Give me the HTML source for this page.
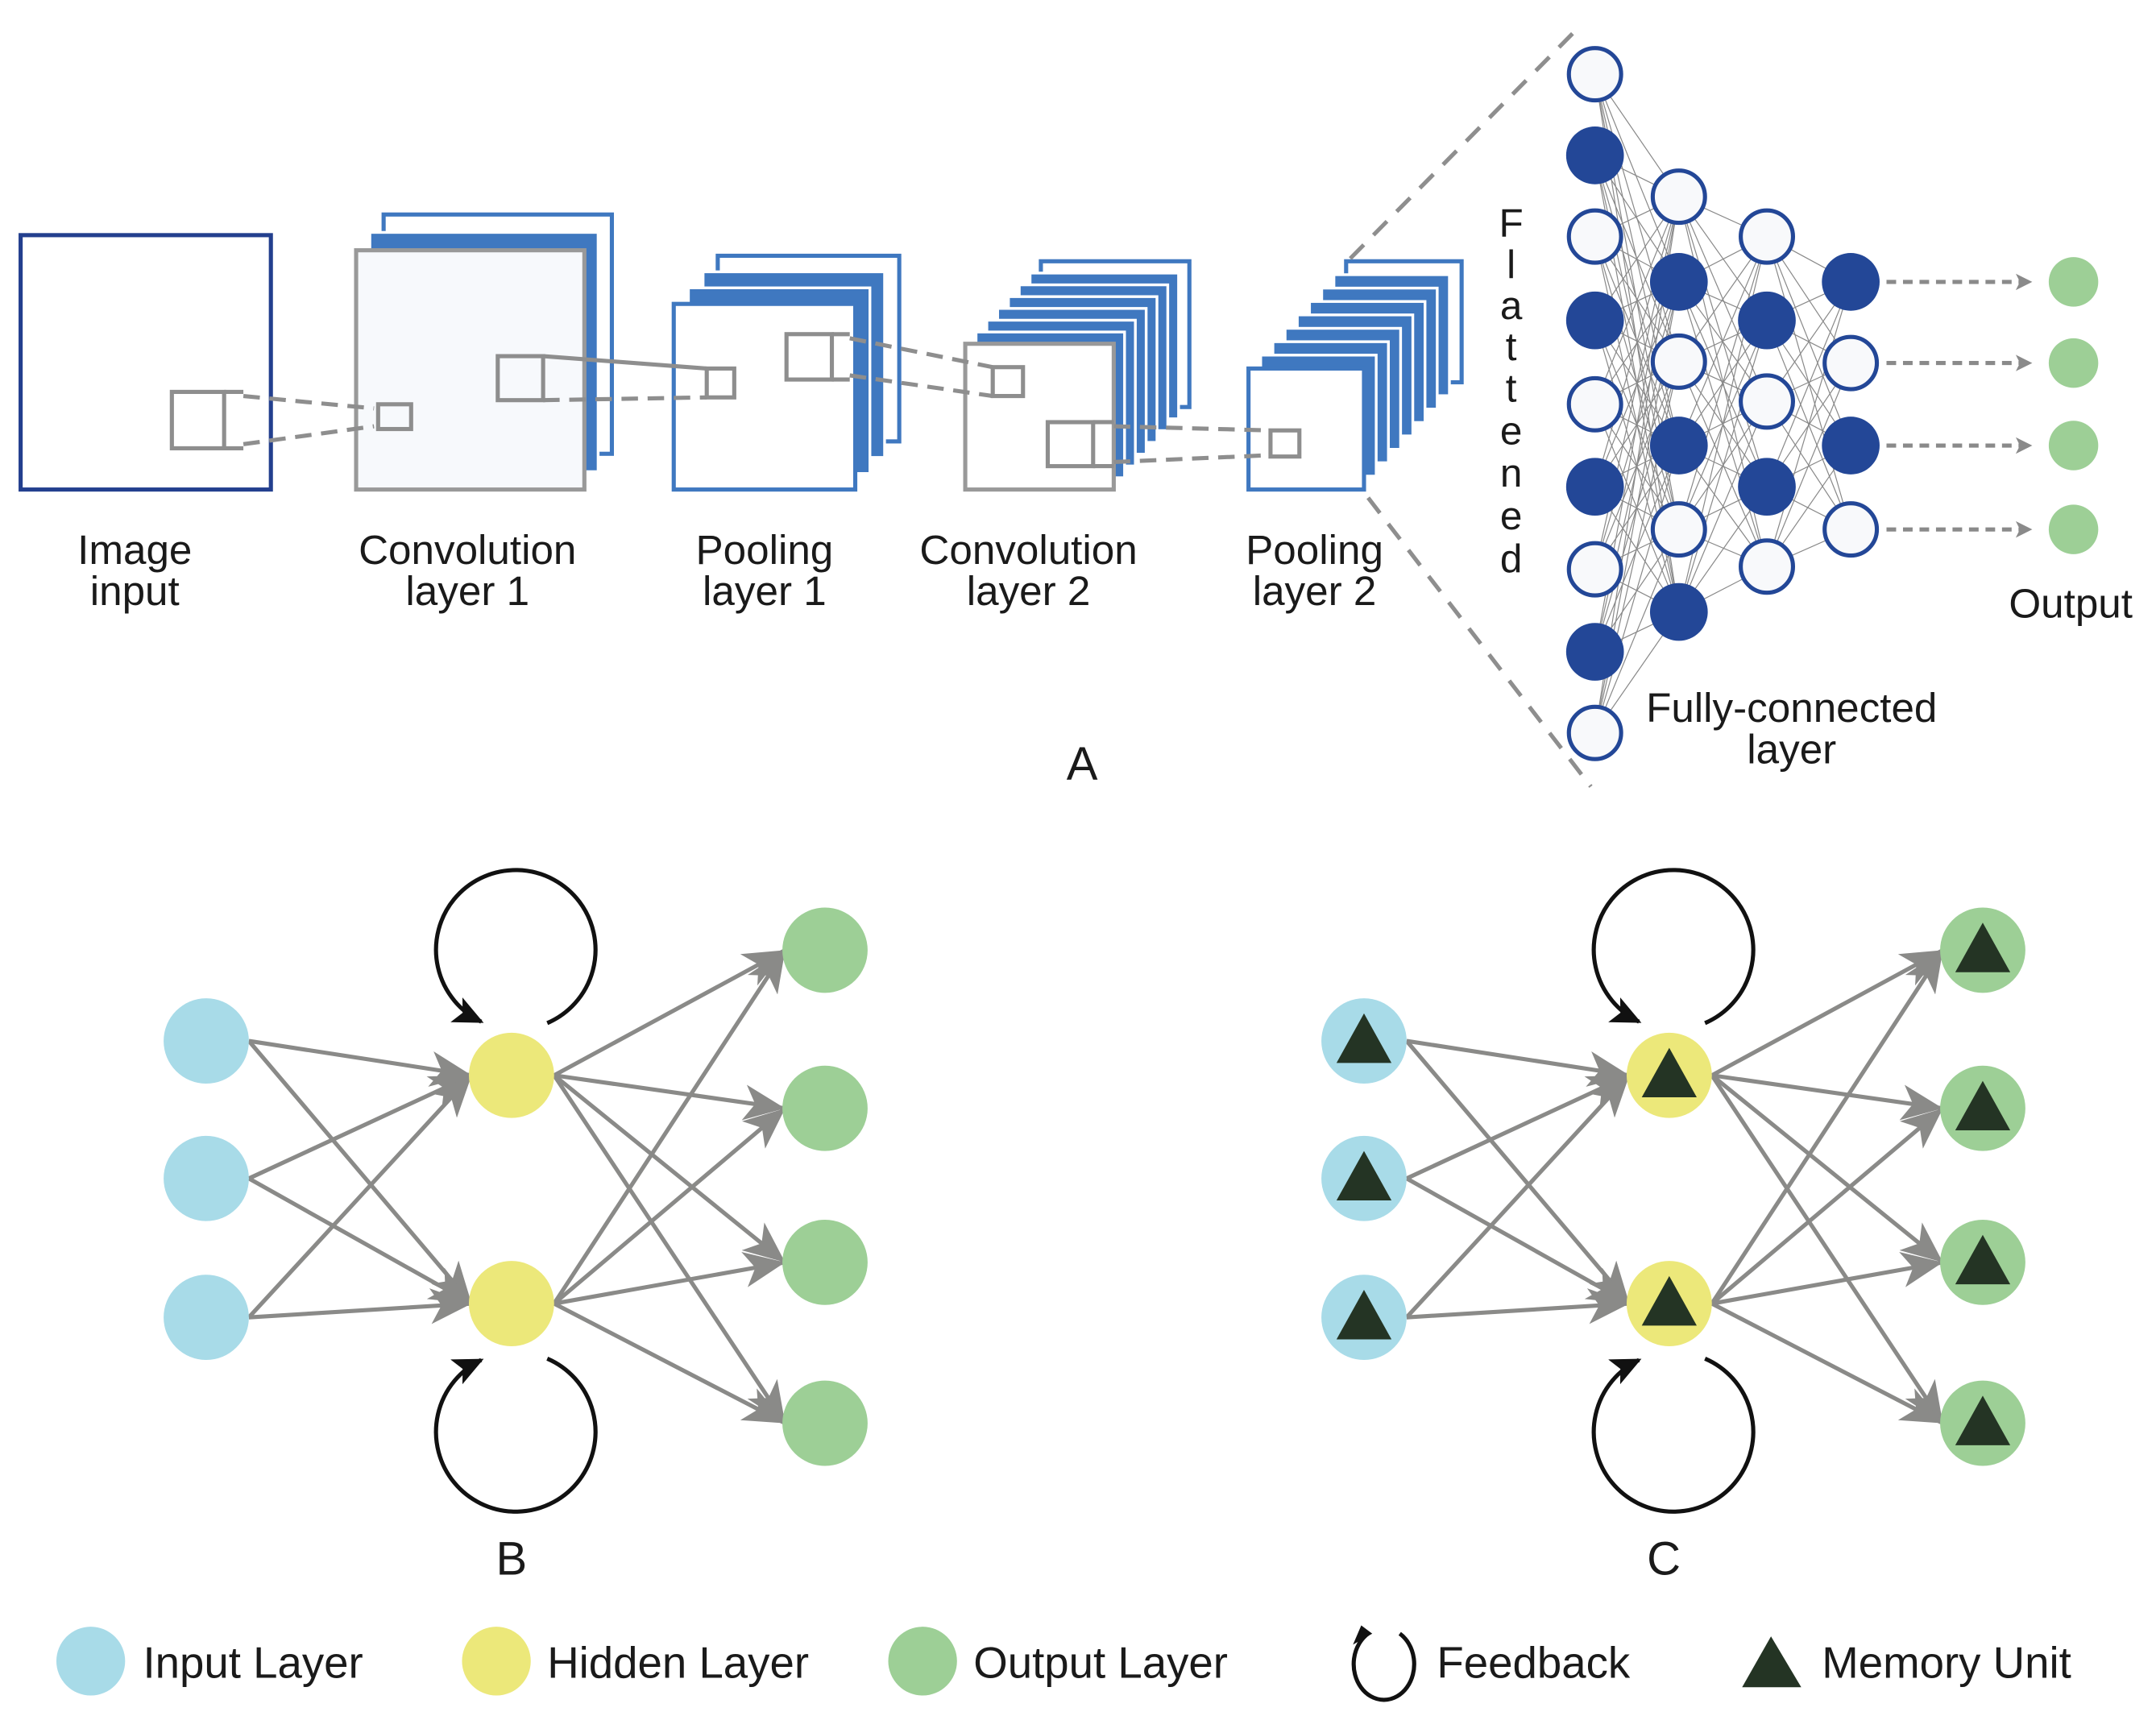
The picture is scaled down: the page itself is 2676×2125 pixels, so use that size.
<!DOCTYPE html>
<html><head><meta charset="utf-8"><style>
html,body{margin:0;padding:0;background:#fff}
svg{display:block}
text{font-family:"Liberation Sans",sans-serif;fill:#1a1a1a}
</style></head><body>
<svg id="s" width="2676" height="2125" viewBox="0 0 1568 1245" preserveAspectRatio="none" xmlns="http://www.w3.org/2000/svg">
<defs>
<marker id="ga" markerUnits="userSpaceOnUse" markerWidth="32" markerHeight="26" refX="30" refY="13" orient="auto"><path d="M0,0 L30,13 L0,26 L8,13 z" fill="#8a8a88"/></marker>
<marker id="ba" markerUnits="userSpaceOnUse" markerWidth="24" markerHeight="20" refX="20" refY="10" orient="auto"><path d="M0,0 L22,10 L0,20 L5,10 z" fill="#111"/></marker>
<marker id="da" markerUnits="userSpaceOnUse" markerWidth="14" markerHeight="12" refX="12" refY="6" orient="auto"><path d="M0,0 L12,6 L0,12 L3,6 z" fill="#8a8a8a"/></marker>
</defs>
<rect x="15" y="171" width="182" height="185" fill="#fff" stroke="#233f8e" stroke-width="3"/>
<rect x="279" y="156" width="166" height="174" fill="#fff" stroke="#3f78c0" stroke-width="3"/>
<rect x="269" y="169" width="166" height="174" fill="#3f78c0" stroke="#fff" stroke-width="2"/>
<rect x="259" y="182" width="166" height="174" fill="#f7f9fc" stroke="#999" stroke-width="3"/>
<g id="pstacks"></g>
<g fill="none" stroke="#8e8e8e" stroke-width="3">
<rect x="125" y="285" width="38" height="41"/><path d="M163,285 H177 M163,326 H177"/>
<path d="M177,288 L272,297 M177,323 L272,310" stroke-dasharray="12,7"/>
<rect x="275" y="294" width="24" height="18"/>
<rect x="362" y="259" width="33" height="32"/><path d="M395,259 L514,268"/>
<path d="M395,291 L514,289" stroke-dasharray="12,7"/>
<rect x="514" y="268" width="20" height="21"/>
<rect x="572" y="243" width="33" height="33"/><path d="M605,243 H618 M605,276 H618"/>
<path d="M618,246 L722,267 M618,273 L722,288" stroke-dasharray="12,7"/>
<rect x="722" y="267" width="22" height="21"/>
<rect x="762" y="307" width="33" height="32"/><path d="M795,307 H810 M795,339 H810"/>
<path d="M810,310 L924,313 M810,336 L924,331" stroke-dasharray="12,7"/>
<rect x="924" y="313" width="21" height="19"/>
</g>
<path d="M982,188 L1150,18 M995,362 L1157,572" stroke="#8e8e8e" stroke-width="3" stroke-dasharray="14,10" fill="none"/>
<g id="fc" stroke="#888" stroke-width="0.7"></g>
<g id="fcn"></g>
<g stroke="#8a8a8a" stroke-width="3" stroke-dasharray="7,5" marker-end="url(#da)">
<line x1="1372" y1="205" x2="1478" y2="205"/><line x1="1372" y1="264" x2="1478" y2="264"/>
<line x1="1372" y1="324" x2="1478" y2="324"/><line x1="1372" y1="385" x2="1478" y2="385"/>
</g>
<g fill="#9dcf96"><circle cx="1508" cy="205" r="18"/><circle cx="1508" cy="264" r="18"/><circle cx="1508" cy="324" r="18"/><circle cx="1508" cy="385" r="18"/></g>
<g font-size="30" text-anchor="middle">
<text x="98" y="410">Image</text><text x="98" y="440">input</text>
<text x="340" y="410">Convolution</text><text x="340" y="440">layer 1</text>
<text x="556" y="410">Pooling</text><text x="556" y="440">layer 1</text>
<text x="748" y="410">Convolution</text><text x="748" y="440">layer 2</text>
<text x="956" y="410">Pooling</text><text x="956" y="440">layer 2</text>
<text x="1506" y="449">Output</text>
<text x="1303" y="525">Fully-connected</text><text x="1303" y="555">layer</text>
<text x="787" y="567" font-size="34">A</text>
</g>
<g font-size="29" text-anchor="middle">
<text x="1099" y="172">F</text><text x="1099" y="202">l</text><text x="1099" y="232">a</text><text x="1099" y="262">t</text><text x="1099" y="292">t</text><text x="1099" y="323">e</text><text x="1099" y="354">n</text><text x="1099" y="385">e</text><text x="1099" y="416">d</text>
</g>
<g id="bc"></g>
<g font-size="34" text-anchor="middle"><text x="372" y="1145">B</text><text x="1210" y="1145">C</text></g>
<circle cx="66" cy="1208" r="25" fill="#a8dbe8"/>
<circle cx="361" cy="1208" r="25" fill="#ece87a"/>
<circle cx="671" cy="1208" r="25" fill="#9dcf96"/>
<path d="M995,1188 A22,26 0 1 0 1018,1188" fill="none" stroke="#111" stroke-width="3"/>
<path d="M984,1196 L990,1182 L998,1188 z" fill="#111"/>
<path d="M1267,1227 L1310,1227 L1288,1190 z" fill="#243424"/>
<g font-size="32">
<text x="104" y="1220">Input Layer</text>
<text x="398" y="1220">Hidden Layer</text>
<text x="708" y="1220">Output Layer</text>
<text x="1045" y="1220">Feedback</text>
<text x="1325" y="1220">Memory Unit</text>
</g>
<script>
var NS="http://www.w3.org/2000/svg";
function el(p,t,a){var e=document.createElementNS(NS,t);for(var k in a)e.setAttribute(k,a[k]);p.appendChild(e);return e;}
var st=document.getElementById('pstacks');
function stack(fx,fy,w,h,bx,by,n,frontStroke){
  var dx=(bx-fx)/n,dy=(by-fy)/n;
  el(st,'rect',{x:bx,y:by,width:w,height:h,fill:'#fff',stroke:'#3f78c0','stroke-width':3});
  for(var i=n-1;i>=1;i--){el(st,'rect',{x:fx+dx*i,y:fy+dy*i,width:w,height:h,fill:'#3f78c0',stroke:'#fff','stroke-width':2});}
  el(st,'rect',{x:fx,y:fy,width:w,height:h,fill:'#fff',stroke:frontStroke,'stroke-width':3});
}
stack(490,221,132,135,522,186,3,'#3f78c0');
stack(702,250,108,106,757,190,7,'#999');
stack(908,268,84,88,979,190,8,'#3f78c0');
var cols=[[1160,[54,113,172,233,294,354,414,474,533],[0,1,0,1,0,1,0,1,0]],
[1221,[143,205,263,324,385,445],[0,1,0,1,0,1]],
[1285,[172,233,292,354,412],[0,1,0,1,0]],
[1346,[205,264,324,385],[1,0,1,0]]];
var fc=document.getElementById('fc'),fcn=document.getElementById('fcn');
for(var c=0;c<3;c++){var A=cols[c],B=cols[c+1];A[1].forEach(function(a){B[1].forEach(function(b){el(fc,'line',{x1:A[0],y1:a,x2:B[0],y2:b});});});}
cols.forEach(function(C){C[1].forEach(function(y,i){
 if(C[2][i])el(fcn,'circle',{cx:C[0],cy:y,r:21,fill:'#234797'});
 else el(fcn,'circle',{cx:C[0],cy:y,r:19,fill:'#f8f9fb',stroke:'#234797','stroke-width':3});});});
var bc=document.getElementById('bc');
[0,842].forEach(function(o,idx){
 var ins=[757,857,958],hid=[782,948],outs=[691,806,918,1035];
 ins.forEach(function(a){hid.forEach(function(b){el(bc,'line',{x1:150+o+31,y1:a,x2:343+o,y2:b,stroke:'#8a8a88','stroke-width':3,'marker-end':'url(#ga)'});});});
 hid.forEach(function(a){outs.forEach(function(b){el(bc,'line',{x1:372+o+31,y1:a,x2:571+o,y2:b,stroke:'#8a8a88','stroke-width':3,'marker-end':'url(#ga)'});});});
 el(bc,'path',{d:'M'+(398+o)+',744 A58,58 0 1 0 '+(350+o)+',743',fill:'none',stroke:'#111','stroke-width':3,'marker-end':'url(#ba)'});
 el(bc,'path',{d:'M'+(398+o)+',988 A58,58 0 1 1 '+(350+o)+',989',fill:'none',stroke:'#111','stroke-width':3,'marker-end':'url(#ba)'});
 function node(x,y,f){el(bc,'circle',{cx:x,cy:y,r:31,fill:f});if(idx)el(bc,'path',{d:'M'+(x-20)+','+(y+16)+' L'+(x+20)+','+(y+16)+' L'+x+','+(y-20)+' z',fill:'#243424'});}
 ins.forEach(function(y){node(150+o,y,'#a8dbe8');});
 hid.forEach(function(y){node(372+o,y,'#ece87a');});
 outs.forEach(function(y){node(600+o,y,'#9dcf96');});
});
</script>
</svg>
</body></html>
